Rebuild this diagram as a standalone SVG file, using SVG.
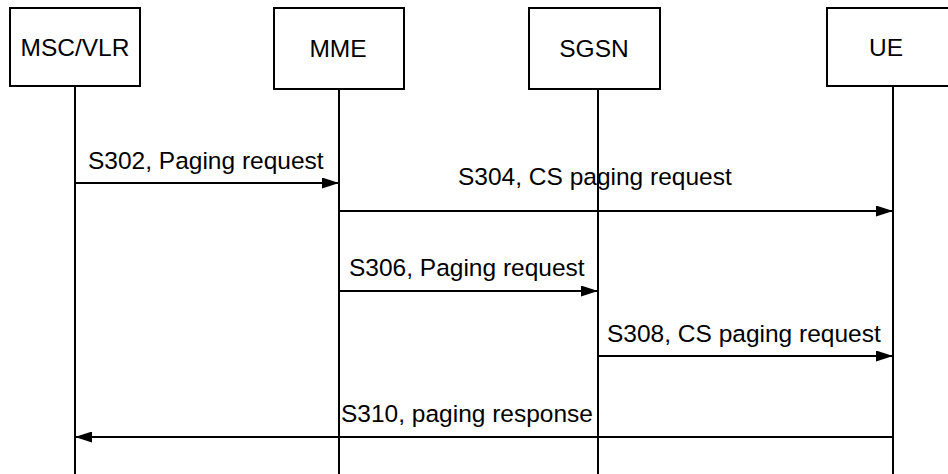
<svg xmlns="http://www.w3.org/2000/svg" width="948" height="474" viewBox="0 0 948 474">
<defs>
<marker id="ah" viewBox="0 0 17 11" refX="17" refY="5.5" markerWidth="17" markerHeight="11" markerUnits="userSpaceOnUse" orient="auto">
<path d="M0,0 L17,5.5 L0,11 Z" fill="#000"/>
</marker>
</defs>
<style>
.box{fill:#fff;stroke:#000;stroke-width:2}
.life{stroke:#000;stroke-width:2;fill:none}
.msg{stroke:#000;stroke-width:1.8;fill:none;marker-end:url(#ah)}
text{font-family:"Liberation Sans",Arial,sans-serif;font-size:24.5px;fill:#000}
.c{text-anchor:middle}
</style>
<rect width="948" height="474" fill="#fff"/>
<g id="lifelines">
<line class="life" x1="75" y1="86" x2="75" y2="474"/>
<line class="life" x1="339" y1="89" x2="339" y2="474"/>
<line class="life" x1="598" y1="89" x2="598" y2="474"/>
<line class="life" x1="893" y1="86" x2="893" y2="474"/>
</g>
<g id="msc">
<rect class="box" x="10" y="8" width="130" height="78"/>
<text class="c" x="75" y="56">MSC/VLR</text>
</g>
<g id="mme">
<rect class="box" x="274" y="8" width="130" height="81"/>
<text class="c" x="338" y="57">MME</text>
</g>
<g id="sgsn">
<rect class="box" x="529" y="8" width="131" height="81"/>
<text class="c" x="594" y="57">SGSN</text>
</g>
<g id="ue">
<rect class="box" x="827" y="8" width="140" height="78"/>
<text class="c" x="886" y="56">UE</text>
</g>
<g id="connectors">
<line class="msg" x1="75" y1="183" x2="339" y2="183"/>
<text x="88" y="169">S302, Paging request</text>
<line class="msg" x1="339" y1="211" x2="893" y2="211"/>
<text x="458" y="185">S304, CS paging request</text>
<line class="msg" x1="339" y1="291" x2="598" y2="291"/>
<text x="349" y="276">S306, Paging request</text>
<line class="msg" x1="598" y1="356" x2="893" y2="356"/>
<text x="607" y="342">S308, CS paging request</text>
<line class="msg" x1="893" y1="437" x2="75" y2="437"/>
<text x="341" y="422">S310, paging response</text>
</g>
</svg>
